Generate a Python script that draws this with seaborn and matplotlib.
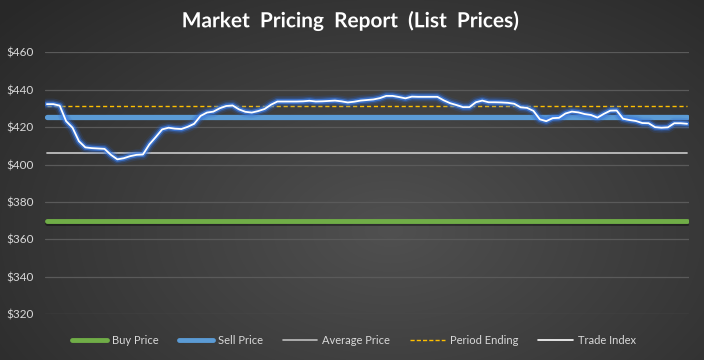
import numpy as np
import pandas as pd
import seaborn as sns
import matplotlib
matplotlib.use("Agg")
import matplotlib.pyplot as plt
import matplotlib.patheffects as pe
from matplotlib.lines import Line2D

# ---- data ----
trade_index = [
    432.3, 432.3, 431.5, 423.2, 419.7, 412.5, 409.2, 408.8, 408.6, 408.4,
    405.2, 402.8, 403.4, 404.5, 405.2, 405.4, 410.8, 414.7, 418.8, 419.7,
    419.2, 419.0, 420.2, 421.8, 426.0, 427.8, 428.3, 430.1, 431.3, 431.6,
    429.5, 428.2, 427.8, 428.6, 429.7, 432.0, 433.7, 433.7, 433.7, 433.7,
    433.8, 434.1, 433.7, 433.8, 434.0, 434.2, 433.8, 433.2, 433.6, 434.2,
    434.5, 434.8, 435.5, 436.7, 436.7, 436.1, 435.4, 436.3, 436.2, 436.2,
    436.2, 436.2, 434.3, 432.8, 431.8, 430.7, 430.7, 433.3, 434.2, 433.3,
    433.3, 433.2, 433.0, 432.5, 430.6, 430.3, 428.7, 424.2, 423.2, 424.8,
    425.0, 427.3, 428.3, 427.9, 427.0, 426.5, 425.1, 427.1, 428.8, 428.9,
    424.5, 423.8, 423.3, 422.2, 422.1, 420.0, 419.7, 419.9, 422.1, 422.1,
    421.8,
]
buy_price_value = 370.0
sell_price_value = 425.3
average_price_value = 406.1
period_ending_value = 431.5
y_ticks = [320, 340, 360, 380, 400, 420, 440, 460]
title = "Market  Pricing  Report  (List  Prices)"
legend_labels = ["Buy Price", "Sell Price", "Average Price", "Period Ending", "Trade Index"]

n = len(trade_index)
period = list(range(n))
df = pd.DataFrame({
    "period": period,
    "trade": trade_index,
    "buy": [buy_price_value] * n,
    "sell": [sell_price_value] * n,
    "avg": [average_price_value] * n,
    "pend": [period_ending_value] * n,
})

sns.set_theme(style="dark")
plt.rcParams["font.family"] = ["Lato", "DejaVu Sans"]

W, H = 704, 360
fig = plt.figure(figsize=(W / 100, H / 100), dpi=100)

# radial background gradient
bg = fig.add_axes([0, 0, 1, 1], zorder=-10)
yy, xx = np.mgrid[0:H, 0:W]
r = np.sqrt(((xx - 390) / 520.0) ** 2 + ((yy - 230) / 330.0) ** 2)
r = np.clip(r, 0, 1)
c_in = np.array([0x50, 0x50, 0x50]) / 255
c_out = np.array([0x28, 0x28, 0x28]) / 255
img = c_in[None, None, :] * (1 - r[..., None]) + c_out[None, None, :] * r[..., None]
bg.imshow(img, aspect="auto", extent=[0, 1, 0, 1])
bg.axis("off")

left, right = 45 / W, 689 / W
bottom, top = (H - 314.3) / H, (H - 52.3) / H
ax = fig.add_axes([left, bottom, right - left, top - bottom])
ax.set_facecolor("none")
ax.patch.set_alpha(0)

grid_c = "#5a5a5a"
for t in y_ticks:
    ax.axhline(t, color=grid_c, lw=0.9, zorder=0)

green = "#70AD47"
blue = "#5B9BD5"
gray = "#BFBFBF"
orange = "#FFC000"

sns.lineplot(data=df, x="period", y="buy", ax=ax, color=green, lw=3.5,
             path_effects=[pe.SimpleLineShadow(offset=(0, -1.5), shadow_color="black", alpha=0.4), pe.Normal()])
sns.lineplot(data=df, x="period", y="sell", ax=ax, color=blue, lw=3.8)
sns.lineplot(data=df, x="period", y="avg", ax=ax, color=gray, lw=1.3)
sns.lineplot(data=df, x="period", y="pend", ax=ax, color=orange, lw=1.0, linestyle=(0, (3, 2)))
sns.lineplot(data=df, x="period", y="trade", ax=ax, color="white", lw=1.3,
             path_effects=[
                 pe.Stroke(linewidth=8, foreground="#2a62c8", alpha=0.16),
                 pe.Stroke(linewidth=5.5, foreground="#2f6ed8", alpha=0.32),
                 pe.Stroke(linewidth=3.5, foreground="#3f80ea", alpha=0.7),
                 pe.Normal()])

ax.set_xlim(-0.3, n - 1 + 0.3)
ax.set_ylim(320, 460)
ax.set_yticks(y_ticks)
ax.set_yticklabels([f"${t}" for t in y_ticks], color="#d9d9d9", fontsize=8.5)
ax.set_xticks([])
ax.set_xlabel("")
ax.set_ylabel("")
ax.tick_params(axis="y", length=0, pad=8)
for s in ax.spines.values():
    s.set_visible(False)
ax.grid(False)

handles = [
    Line2D([], [], color=green, lw=3.5),
    Line2D([], [], color=blue, lw=3.5),
    Line2D([], [], color=gray, lw=1.2),
    Line2D([], [], color=orange, lw=1.0, linestyle=(0, (3, 1.5))),
    Line2D([], [], color="white", lw=1.2),
]
leg = fig.legend(handles, legend_labels, loc="center", bbox_to_anchor=(354 / W, (H - 340) / H),
                 ncol=5, frameon=False, fontsize=8, handlelength=3.1, handletextpad=0.45,
                 columnspacing=1.8, labelcolor="#d9d9d9")

fig.text(351 / W, (H - 21) / H, title, ha="center", va="center", color="white",
         fontsize=15, fontweight="bold",
         path_effects=[pe.SimpleLineShadow(), pe.Normal()])

fig.savefig("out.png", dpi=100)
